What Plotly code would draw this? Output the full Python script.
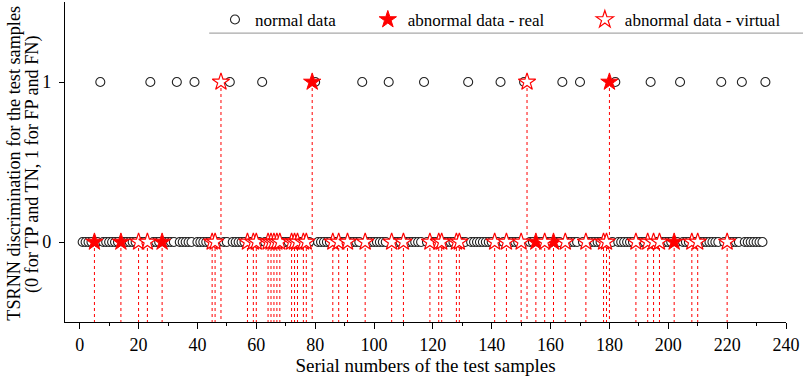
import plotly.graph_objects as go

# ---------------- data ----------------
n_samples = 233
# normal samples discriminated as 1 (FP)
normal_at_1 = [7, 24, 33, 39, 51, 62, 80, 96, 105, 117, 132, 143, 151, 164, 170,
               182, 194, 204, 218, 225, 233]
# real abnormal samples
real_at_0 = [5, 14, 28, 155, 161, 202]
real_at_1 = [79, 180]
# virtual abnormal samples
virtual_at_0 = [20, 23, 45, 46, 57, 59, 60, 64, 65, 66, 67, 68, 72, 73, 74, 76, 77,
                86, 88, 91, 97, 106, 110, 119, 122, 123, 128, 129, 141, 145, 150,
                158, 165, 172, 178, 179, 189, 193, 195, 197, 208, 210, 220]
virtual_at_1 = [48, 152]

x_ticks = [0, 20, 40, 60, 80, 100, 120, 140, 160, 180, 200, 220, 240]
y_ticks = [0, 1]
y_bottom = -0.5

x_title = "Serial numbers of the test samples"
y_title_1 = "TSRNN discrimination for the test samples"
y_title_2 = "(0 for TP and TN, 1 for FP and FN)"

# every other serial number is a normal sample discriminated as 0
special = set(normal_at_1) | set(real_at_0) | set(real_at_1) | set(virtual_at_0) | set(virtual_at_1)
normal_at_0 = [i for i in range(1, n_samples + 1) if i not in special]

normal_x = normal_at_0 + normal_at_1
normal_y = [0] * len(normal_at_0) + [1] * len(normal_at_1)
real_x = real_at_0 + real_at_1
real_y = [0] * len(real_at_0) + [1] * len(real_at_1)
virt_x = virtual_at_0 + virtual_at_1
virt_y = [0] * len(virtual_at_0) + [1] * len(virtual_at_1)

# drop lines from every abnormal point to the bottom axis
drop_x, drop_y = [], []
for xv, yv in zip(real_x + virt_x, real_y + virt_y):
    drop_x += [xv, xv, None]
    drop_y += [yv, y_bottom, None]

FONT = "Liberation Serif"
RED = "#ff0000"

fig = go.Figure()
fig.add_trace(go.Scatter(x=drop_x, y=drop_y, mode="lines", showlegend=False,
                         line=dict(color=RED, width=1, dash="dot"), hoverinfo="skip"))
fig.add_trace(go.Scatter(x=normal_x, y=normal_y, mode="markers", name="normal data",
                         legend="legend",
                         marker=dict(symbol="circle", size=9, color="white",
                                     line=dict(color="#222222", width=1.1))))
fig.add_trace(go.Scatter(x=real_x, y=real_y, mode="markers", name="abnormal data - real",
                         legend="legend2",
                         marker=dict(symbol="star", size=13, color=RED,
                                     line=dict(color=RED, width=1))))
fig.add_trace(go.Scatter(x=virt_x, y=virt_y, mode="markers", name="abnormal data - virtual",
                         legend="legend3",
                         marker=dict(symbol="star", size=13, color="white",
                                     line=dict(color=RED, width=1.2))))

leg_common = dict(orientation="h", y=1.0, xanchor="left", yanchor="top",
                  font=dict(family=FONT, size=17, color="black"),
                  bgcolor="rgba(0,0,0,0)", itemwidth=30)

fig.update_layout(
    width=803, height=383,
    margin=dict(l=65, r=17, t=2, b=61),
    paper_bgcolor="white", plot_bgcolor="white",
    font=dict(family=FONT, size=18, color="black"),
    legend=dict(x=0.208, **leg_common),
    legend2=dict(x=0.42, **leg_common),
    legend3=dict(x=0.721, **leg_common),
    xaxis=dict(range=[-5, 240], tickvals=x_ticks, ticks="outside", ticklen=6,
               tickwidth=1.2, tickcolor="black", showline=True, linecolor="black",
               linewidth=1.3, showgrid=False, zeroline=False,
               minor=dict(dtick=10, ticks="outside", ticklen=3, tickcolor="black"),
               title=dict(text=x_title, standoff=0, font=dict(family=FONT, size=19)),
               tickfont=dict(family=FONT, size=18)),
    yaxis=dict(range=[-0.5, 1.5], tickvals=y_ticks, ticks="outside", ticklen=5,
               tickwidth=1.2, tickcolor="black", showline=True, linecolor="black",
               linewidth=1.3, showgrid=False, zeroline=False,
               ticklabelstandoff=4,
               tickfont=dict(family=FONT, size=18)),
    annotations=[
        dict(text=y_title_1, textangle=-90, xref="paper", yref="paper",
             x=-0.0707, y=0.495, xanchor="center", yanchor="middle", showarrow=False,
             font=dict(family=FONT, size=18.2, color="black")),
        dict(text=y_title_2, textangle=-90, xref="paper", yref="paper",
             x=-0.0451, y=0.495, xanchor="center", yanchor="middle", showarrow=False,
             font=dict(family=FONT, size=18.2, color="black")),
    ],
    shapes=[dict(type="line", xref="paper", yref="paper", x0=0.2, x1=1.03,
                 y0=0.903, y1=0.903, line=dict(color="#a8a8a8", width=1.2))],
)

fig.write_html("out.html", config={"displayModeBar": False},
               post_script="document.body.style.margin='0';")
